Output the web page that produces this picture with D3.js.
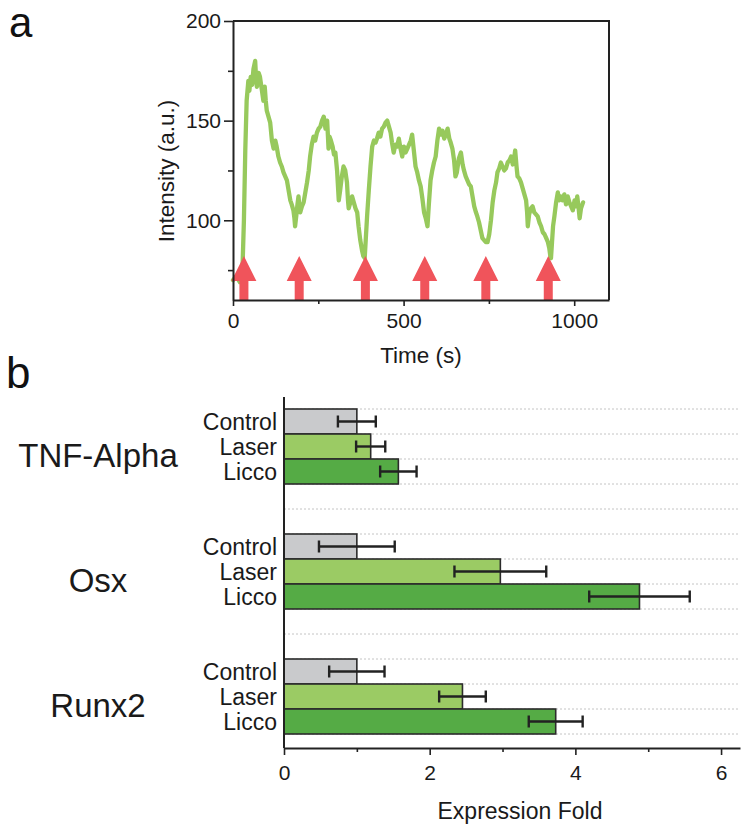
<!DOCTYPE html>
<html><head><meta charset="utf-8">
<script src="https://cdn.jsdelivr.net/npm/d3@7"></script>
<style>body{margin:0;background:#fff}svg{display:block;font-family:"Liberation Sans",Arial,Helvetica,sans-serif}</style>
</head><body><svg id="c" width="747" height="831"></svg>
<script>
// ---------- Panel a data ----------
const timeS = [0,10,20,25,28,32,36,40,45,48,52,56,60,65,68,70,75,79,84,89,93,96,99,104,109,114,119,124,128,133,138,143,148,153,158,163,168,172,177,180,182,186,189,192,195,197,202,207,212,217,222,226,231,236,241,246,251,256,261,266,271,276,280,283,287,292,296,300,305,310,314,319,324,329,334,337,339,344,349,354,359,364,368,373,378,382,386,389,393,398,403,406,408,413,418,422,427,432,437,442,447,452,457,462,466,471,476,481,486,491,496,501,506,511,516,521,525,530,535,540,545,550,555,560,565,570,574,579,584,589,594,599,604,609,614,619,624,629,634,638,643,648,652,656,662,668,673,677,682,687,692,697,702,707,712,716,721,726,731,736,741,746,751,756,761,766,771,775,780,785,790,795,800,805,810,815,820,824,827,831,834,839,844,849,854,859,862,864,868,873,878,883,888,893,898,903,908,913,918,923,927,930,932,935,938,942,947,952,956,961,966,971,976,981,986,991,996,1001,1005,1009,1013,1016,1020,1026];
const intensity = [70,72,69,75,77,100,135,160,170,165,172,168,176,180,170,167,174,172,166,160,167,160,155,152,149,140,136,140,137,132,129,127,124,122,120,115,110,108,105,101,97,103,108,112,106,104,107,109,114,119,125,132,138,142,140,144,146,147,150,152,146,150,136,142,140,137,133,134,125,110,115,122,127,125,119,110,106,109,112,109,106,104,97,90,85,82,81,90,102,115,127,133,137,140,139,141,144,142,146,147,149,150,147,144,139,134,138,137,141,136,132,137,134,136,138,140,143,135,127,124,120,117,111,104,101,97,108,120,125,129,132,140,146,143,145,141,143,146,141,139,136,130,122,124,131,134,128,125,122,120,118,117,112,107,104,102,99,95,91,90,89,89,93,100,109,115,119,124,126,129,127,125,126,129,130,132,128,131,135,127,122,121,119,116,113,110,104,97,103,106,107,104,103,102,99,97,94,93,91,89,86,82,81,89,97,102,109,114,110,112,110,113,108,112,109,107,105,110,107,112,106,101,106,109];
const arrowTimes = [32,194,388,562,741,924];
const xTicksA = [0,500,1000];
const xMinorA = [250,750];
const yTicksA = [100,150,200];
const yMinorA = [75,125,175];

// ---------- Panel b data ----------
const genes = ["TNF-Alpha","Osx","Runx2"];
const conditions = ["Control","Laser","Licco"];
const controlMean = [1.00,1.00,1.00];
const controlErr  = [0.26,0.52,0.38];
const laserMean   = [1.19,2.97,2.45];
const laserErr    = [0.20,0.63,0.32];
const liccoMean   = [1.57,4.88,3.73];
const liccoErr    = [0.25,0.69,0.37];
const xTicksB = [0,2,4,6];
const xMinorB = [1,3,5];

const svg = d3.select("#c");
const ink = "#222";

// panel letters
svg.append("text").attr("x",9).attr("y",37).attr("font-size",42).attr("fill","#111").text("a");
svg.append("text").attr("x",6).attr("y",388).attr("font-size",44).attr("fill","#111").text("b");

// ================= Panel a =================
const xa = d3.scaleLinear().domain([0,1102]).range([233,609]);
const ya = d3.scaleLinear().domain([60,200]).range([300,21]);
const ga = svg.append("g");

const line = d3.line().x((d,i)=>xa(timeS[i])).y(d=>ya(d)).curve(d3.curveLinear);
ga.append("path").datum(intensity).attr("d",line)
  .attr("fill","none").attr("stroke","#97c95c").attr("stroke-width",4.3)
  .attr("stroke-linejoin","round").attr("stroke-linecap","round");

const tipY = 256, headY = 281, baseY = 300, hw = 12.5, sw = 4.5;
ga.selectAll("path.arrow").data(arrowTimes).join("path").attr("class","arrow")
  .attr("d", t => { const x = xa(t); return `M${x},${tipY}L${x+hw},${headY}L${x+sw},${headY}L${x+sw},${baseY}L${x-sw},${baseY}L${x-sw},${headY}L${x-hw},${headY}Z`; })
  .attr("fill","#f0545b");

ga.append("path").attr("d",`M${xa.range()[0]},${ya.range()[1]}H${xa.range()[1]}V${ya.range()[0]}`)
  .attr("fill","none").attr("stroke",ink).attr("stroke-width",2);

function styleAxis(g, fs){
  g.select(".domain").attr("stroke",ink).attr("stroke-width",2);
  g.selectAll(".tick line").attr("stroke",ink).attr("stroke-width",1.6);
  g.selectAll(".tick text").attr("font-size",fs).attr("fill","#1a1a1a").attr("font-family","Liberation Sans, Arial, sans-serif");
}
const fmt = d3.format("d");

const axL = ga.append("g").attr("transform",`translate(233,0)`)
  .call(d3.axisLeft(ya).tickValues(yTicksA).tickFormat(fmt).tickSize(9).tickPadding(3).tickSizeOuter(0));
styleAxis(axL,21);
const axLm = ga.append("g").attr("transform",`translate(233,0)`)
  .call(d3.axisLeft(ya).tickValues(yMinorA).tickSize(5).tickFormat("").tickSizeOuter(0));
styleAxis(axLm,21); axLm.select(".domain").remove();

const axB = ga.append("g").attr("transform",`translate(0,300)`)
  .call(d3.axisBottom(xa).tickValues(xTicksA).tickFormat(fmt).tickSize(6).tickPadding(7).tickSizeOuter(0));
styleAxis(axB,21);
const axBm = ga.append("g").attr("transform",`translate(0,300)`)
  .call(d3.axisBottom(xa).tickValues(xMinorA).tickSize(4).tickFormat("").tickSizeOuter(0));
styleAxis(axBm,21); axBm.select(".domain").remove();

ga.append("text").attr("x",(xa.range()[0]+xa.range()[1])/2).attr("y",363)
  .attr("text-anchor","middle").attr("font-size",22.5).attr("fill","#1a1a1a").text("Time (s)");
ga.append("text").attr("transform","translate(174,171) rotate(-90)")
  .attr("text-anchor","middle").attr("font-size",22.5).attr("fill","#1a1a1a").text("Intensity (a.u.)");

// ================= Panel b =================
const xb = d3.scaleLinear().domain([0,6.26]).range([284,740]);
const yG = d3.scaleBand().domain(genes).range([409,734]).paddingInner(0.4).paddingOuter(0);
const yC = d3.scaleBand().domain(conditions).range([0,yG.bandwidth()]);
const gb = svg.append("g");
const means = [controlMean, laserMean, liccoMean];
const errs = [controlErr, laserErr, liccoErr];
const colors = ["#c9cacc","#9bcb64","#55ab45"];

const slot = yC.step();
const gridYs = d3.range(0, Math.round((yG.range()[1]-yG.range()[0])/slot)+1).map(i => yG.range()[0] + i*slot);
gb.selectAll("line.grid").data(gridYs).join("line").attr("class","grid")
  .attr("x1",xb(0)).attr("x2",xb.range()[1]).attr("y1",d=>d).attr("y2",d=>d)
  .attr("stroke","#c4c4c4").attr("stroke-width",1).attr("stroke-dasharray","2,2");

const bars = [];
genes.forEach((g,gi)=>conditions.forEach((c,ci)=>bars.push({g,c,ci,v:means[ci][gi],e:errs[ci][gi]})));

gb.selectAll("rect.bar").data(bars).join("rect").attr("class","bar")
  .attr("x",xb(0)).attr("y",d=>yG(d.g)+yC(d.c))
  .attr("width",d=>xb(d.v)-xb(0)).attr("height",yC.bandwidth())
  .attr("fill",d=>colors[d.ci]).attr("stroke","#2b2b2b").attr("stroke-width",1.6);

const eb = gb.selectAll("g.err").data(bars).join("g").attr("class","err")
  .attr("transform",d=>`translate(0,${yG(d.g)+yC(d.c)+yC.bandwidth()/2})`);
eb.append("line").attr("x1",d=>xb(d.v-d.e)).attr("x2",d=>xb(d.v+d.e)).attr("y1",0).attr("y2",0)
  .attr("stroke","#222").attr("stroke-width",2.4);
eb.append("line").attr("x1",d=>xb(d.v-d.e)).attr("x2",d=>xb(d.v-d.e)).attr("y1",-6).attr("y2",6)
  .attr("stroke","#222").attr("stroke-width",2.4);
eb.append("line").attr("x1",d=>xb(d.v+d.e)).attr("x2",d=>xb(d.v+d.e)).attr("y1",-6).attr("y2",6)
  .attr("stroke","#222").attr("stroke-width",2.4);

gb.selectAll("text.cond").data(bars).join("text").attr("class","cond")
  .attr("x",277).attr("y",d=>yG(d.g)+yC(d.c)+yC.bandwidth()/2+8)
  .attr("text-anchor","end").attr("font-size",23).attr("fill","#1a1a1a").text(d=>d.c);

gb.selectAll("text.gene").data(genes).join("text").attr("class","gene")
  .attr("x",98).attr("y",d=>yG(d)+yG.bandwidth()/2+20)
  .attr("text-anchor","middle").attr("font-size",33).attr("fill","#1a1a1a").text(d=>d);

gb.append("line").attr("x1",xb(0)).attr("x2",xb(0)).attr("y1",397).attr("y2",748)
  .attr("stroke",ink).attr("stroke-width",2);
const axBb = gb.append("g").attr("transform","translate(0,748)")
  .call(d3.axisBottom(xb).tickValues(xTicksB).tickFormat(fmt).tickSize(7).tickPadding(10).tickSizeOuter(0));
styleAxis(axBb,21);
const axBbm = gb.append("g").attr("transform","translate(0,748)")
  .call(d3.axisBottom(xb).tickValues(xMinorB).tickSize(4).tickFormat("").tickSizeOuter(0));
styleAxis(axBbm,21); axBbm.select(".domain").remove();

gb.append("text").attr("x",(xb.range()[0]+xb.range()[1])/2+8).attr("y",819)
  .attr("text-anchor","middle").attr("font-size",23).attr("fill","#1a1a1a").text("Expression Fold");
</script></body></html>
